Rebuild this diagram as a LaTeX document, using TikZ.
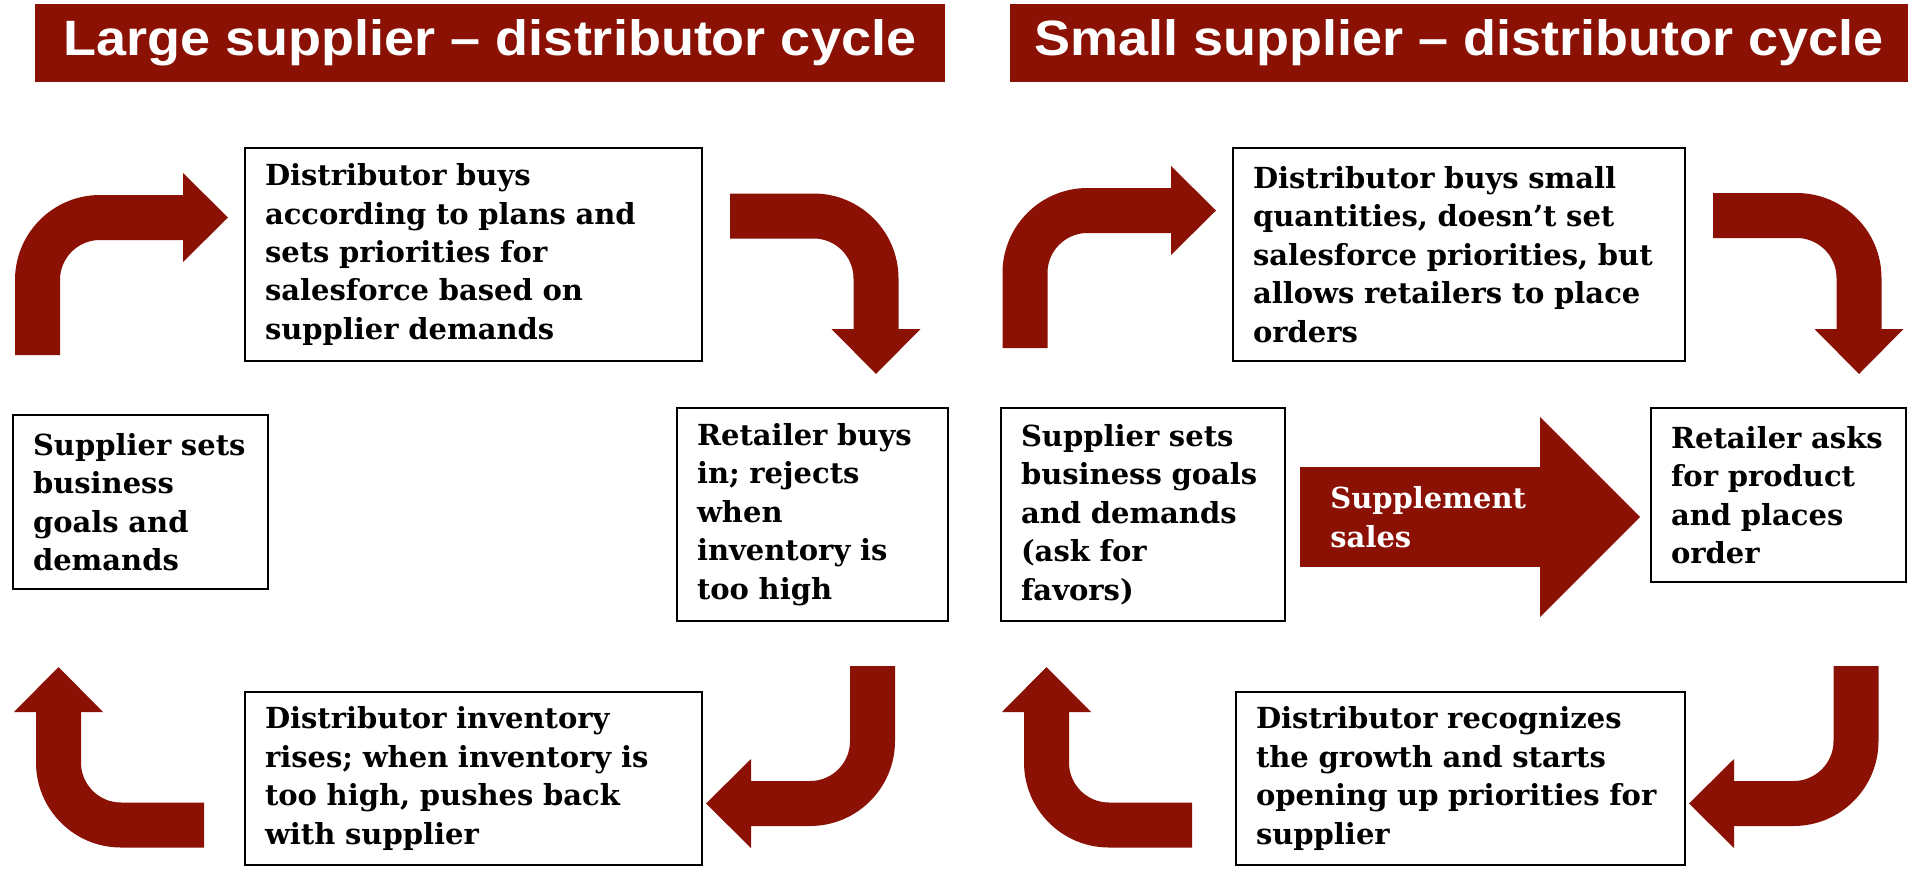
\documentclass[tikz,border=0pt]{standalone}
\usepackage{fontspec}
\setmainfont{DejaVu Serif}
\newfontfamily\headfont{Liberation Sans}
\usetikzlibrary{positioning,arrows.meta}
\definecolor{cycred}{HTML}{8B1105}
\tikzset{
  headbox/.style={fill=cycred,text=white,minimum height=39pt,inner sep=0pt,
                  font=\headfont\bfseries\fontsize{27}{30}\selectfont},
  stepbox/.style={draw=black,line width=1pt,fill=white,align=left,inner xsep=10pt,
                  font=\bfseries\fontsize{14.5}{19.2}\selectfont},
  bentarr/.style={draw=cycred,line width=22.5pt,rounded corners=31.25pt,
               -{Triangle[length=22.5pt,width=44.5pt,line width=0pt]}},
  bigarr/.style={draw=cycred,line width=50pt,
                 -{Triangle[length=50pt,width=100pt,line width=0pt]}}
}
\begin{document}
\begin{tikzpicture}[x=0.5pt,y=-0.5pt]
  \useasboundingbox (0,0) rectangle (1908,873);
  \node[headbox,minimum width=455pt] (head1) at (490,43) {\scalebox{1}[0.92]{Large supplier – distributor cycle}};
  \node[headbox,minimum width=449pt] (head2) at (1459,43) {\scalebox{1}[0.92]{Small supplier – distributor cycle}};

  \node[stepbox,text width=208.5pt,minimum height=106.5pt] (buy1) at (473.5,254.5)
    {Distributor buys\\according to plans and\\sets priorities for\\salesforce based on\\supplier demands};
  \node[stepbox,text width=107.5pt,minimum height=87pt] (goal1) at (140.5,502)
    {Supplier sets\\business\\goals and\\demands};
  \node[stepbox,text width=115.5pt,minimum height=106.5pt] (retail1) at (812.5,514.5)
    {Retailer buys\\in; rejects\\when\\inventory is\\too high};
  \node[stepbox,text width=208.5pt,minimum height=86.5pt] (stock1) at (473.5,778.5)
    {Distributor inventory\\rises; when inventory is\\too high, pushes back\\with supplier};

  \node[stepbox,text width=206pt,minimum height=106.5pt] (buy2) at (1459,254.5)
    {Distributor buys small\\quantities, doesn’t set\\salesforce priorities, but\\allows retailers to place\\orders};
  \node[stepbox,text width=122pt,minimum height=106.5pt] (goal2) at (1143,514.5)
    {Supplier sets\\business goals\\and demands\\(ask for\\favors)};
  \node[stepbox,text width=107.5pt,minimum height=87pt] (retail2) at (1778.5,495)
    {Retailer asks\\for product\\and places\\order};
  \node[stepbox,text width=204.5pt,minimum height=86.5pt] (grow2) at (1460.5,778.5)
    {Distributor recognizes\\the growth and starts\\opening up priorities for\\supplier};

  \coordinate (l1s) at (37.5,355);   \coordinate (l1e) at (228,217.5);
  \coordinate (l2s) at (730,216);    \coordinate (l2e) at (876,374);
  \coordinate (l3s) at (872.5,666);  \coordinate (l3e) at (706,803.5);
  \coordinate (l4s) at (204,825);    \coordinate (l4e) at (58.5,667);
  \coordinate (r1s) at (1025,348);   \coordinate (r1e) at (1216,210.5);
  \coordinate (r2s) at (1713,215.5); \coordinate (r2e) at (1859,374);
  \coordinate (r3s) at (1856,666);   \coordinate (r3e) at (1689,803.5);
  \coordinate (r4s) at (1192,825);   \coordinate (r4e) at (1046.5,667);
  \draw[bentarr] (l1s) |- (l1e);
  \draw[bentarr] (l2s) -| (l2e);
  \draw[bentarr] (l3s) |- (l3e);
  \draw[bentarr] (l4s) -| (l4e);
  \draw[bentarr] (r1s) |- (r1e);
  \draw[bentarr] (r2s) -| (r2e);
  \draw[bentarr] (r3s) |- (r3e);
  \draw[bentarr] (r4s) -| (r4e);

  \coordinate (supps) at (1300,517); \coordinate (suppe) at (1640,517);
  \draw[bigarr] (supps) -- (suppe);
  \node[anchor=west,text=white,align=left,inner sep=0pt,
        font=\bfseries\fontsize{14.5}{19.2}\selectfont] (supp) at (1330,517) {Supplement\\sales};
\end{tikzpicture}
\end{document}
